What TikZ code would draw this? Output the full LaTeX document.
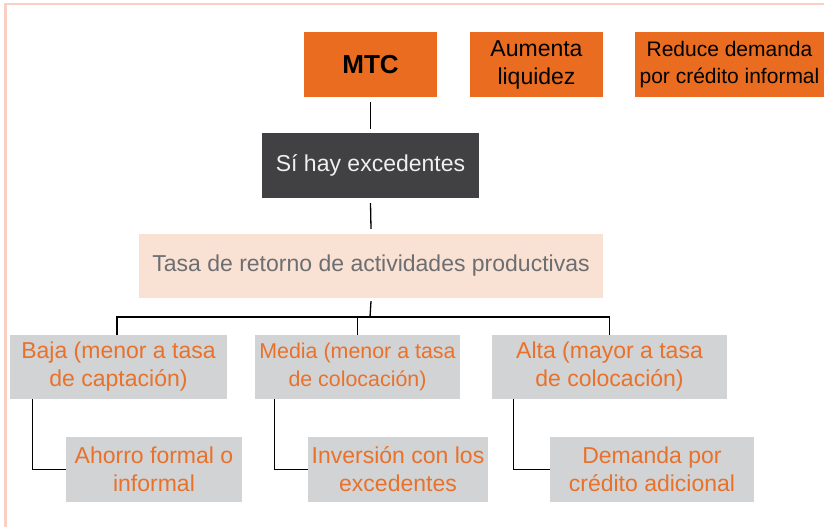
\documentclass[tikz,border=0pt]{standalone}
\usepackage{fontspec}
\setmainfont{Liberation Sans}
\definecolor{borange}{HTML}{E96C20}
\definecolor{bdark}{HTML}{414042}
\definecolor{bpeach}{HTML}{F9E1D3}
\definecolor{bgrey}{HTML}{D1D3D4}
\definecolor{torange}{HTML}{E9712A}
\definecolor{tgrey}{HTML}{6D6E71}
\definecolor{bframe}{HTML}{F9D0C3}
\begin{document}
\begin{tikzpicture}[x=1pt,y=-1pt,
  box/.style={inner sep=0pt,align=center,font=\fontsize{23}{28}\selectfont},
  topbox/.style={box,fill=borange,text=black,minimum height=65pt},
  greybox/.style={box,fill=bgrey,text=torange,minimum height=64.5pt},
  conn/.style={line width=1.3pt,black}]
\useasboundingbox (0,0) rectangle (824,527);
\draw[bframe,line width=2.5pt] (5.5,527) -- (5.5,3.8) -- (824,3.8);

\node[topbox,minimum width=133pt,font=\fontsize{26}{30}\selectfont\bfseries] (mtc) at (370.5,64.5) {MTC};
\node[topbox,minimum width=133pt] (aum) at (536.5,64.5) {Aumenta\\liquidez};
\node[topbox,minimum width=189pt,font=\fontsize{21}{27}\selectfont] (red) at (729.5,64.5) {Reduce demanda\\por crédito informal};

\node[box,fill=bdark,text=white!94!black,minimum width=217pt,minimum height=65pt] (si) at (370.5,165.5) {Sí hay excedentes};
\node[box,fill=bpeach,text=tgrey,minimum width=464pt,minimum height=64pt] (tasa) at (371,266) {Tasa de retorno de actividades productivas};

\node[greybox,minimum width=217pt] (baja) at (118.5,367) {Baja (menor a tasa\\de captación)};
\node[greybox,minimum width=205pt,font=\fontsize{21.4}{28}\selectfont] (media) at (357.5,367) {Media (menor a tasa\\de colocación)};
\node[greybox,minimum width=235pt] (alta) at (609.5,367) {Alta (mayor a tasa\\de colocación)};

\node[greybox,minimum width=176pt] (ahorro) at (154,469.5) {Ahorro formal o\\informal};
\node[greybox,minimum width=180pt] (inv) at (398,469.5) {Inversión con los\\excedentes};
\node[greybox,minimum width=204pt] (dem) at (652,469.5) {Demanda por\\crédito adicional};

\coordinate (bus) at (370,317);
\draw[conn] ([yshift=-5pt]mtc.south) -- ([yshift=4pt]si.north);
\draw[conn] ([yshift=-5pt]si.south) -- ([yshift=5pt]tasa.north);
\draw[conn] ([yshift=-3pt]tasa.south) -- (bus);
\draw[conn] ([xshift=-1.5pt]baja.north) |- (alta.north |- bus) -- (alta.north);
\draw[conn] (media.north) -- (media.north |- bus);
\draw[conn] ([xshift=23pt]baja.south west) |- (ahorro.west);
\draw[conn] ([xshift=20pt]media.south west) |- (inv.west);
\draw[conn] ([xshift=22pt]alta.south west) |- (dem.west);
\end{tikzpicture}
\end{document}
